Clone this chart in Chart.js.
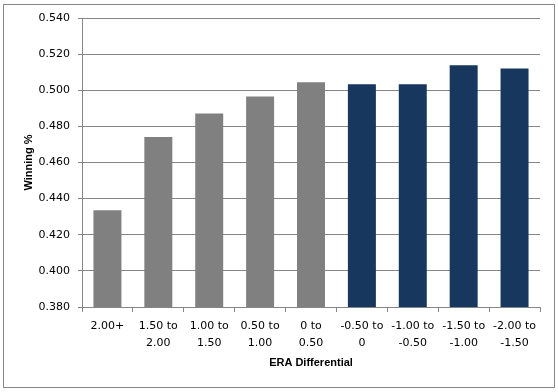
<!DOCTYPE html>
<html>
<head>
<meta charset="utf-8">
<script src="https://cdn.jsdelivr.net/npm/chart.js@4.4.0/dist/chart.umd.min.js"></script>
<style>
  html, body { margin: 0; padding: 0; background: #fff; }
  #wrap { width: 558px; height: 392px; position: relative; }
</style>
</head>
<body>
<div id="wrap"><canvas id="eraChart" width="558" height="392"></canvas></div>
<script>
// ERA differential buckets (run prevention minus opponents)
const categories = [
  ['2.00+'], ['1.50 to', '2.00'], ['1.00 to', '1.50'], ['0.50 to', '1.00'], ['0 to', '0.50'],
  ['-0.50 to', '0'], ['-1.00 to', '-0.50'], ['-1.50 to', '-1.00'], ['-2.00 to', '-1.50']
];
const winPct = [0.4335, 0.4741, 0.4871, 0.4966, 0.5044, 0.5033, 0.5033, 0.5138, 0.5121];
const yTicks = { min: 0.38, max: 0.54, step: 0.02 };

const gray = '#808080';
const navy = '#17375E';
const lineCol = '#868686';

// outer frame like the excel chart border
const framePlugin = {
  id: 'frame',
  beforeDraw(chart) {
    const c = chart.ctx;
    c.save();
    c.fillStyle = '#fff';
    c.fillRect(0, 0, chart.width, chart.height);
    c.strokeStyle = lineCol;
    c.lineWidth = 1;
    c.strokeRect(3.5, 4.5, 551, 383);
    c.restore();
  }
};

const ctx = document.getElementById('eraChart').getContext('2d');
const eraChart = new Chart(ctx, {
  type: 'bar',
  data: {
    labels: categories,
    datasets: [{
      label: 'Winning %',
      data: winPct,
      backgroundColor: c => c.dataIndex < 5 ? gray : navy,
      borderWidth: 0,
      barPercentage: 0.55,
      categoryPercentage: 1
    }]
  },
  options: {
    responsive: false,
    animation: false,
    layout: { padding: { top: 18, right: 18, left: 0, bottom: 0 } },
    plugins: {
      legend: { display: false },
      tooltip: { enabled: false }
    },
    scales: {
      x: {
        afterFit: s => { s.height = 85; },
        grid: { drawOnChartArea: false, tickLength: 5, color: lineCol, offset: true },
        border: { color: lineCol },
        ticks: {
          color: '#000',
          padding: 5,
          maxRotation: 0,
          autoSkip: false,
          font: { family: 'DejaVu Sans', size: 11, lineHeight: 1.6 }
        },
        title: {
          display: true,
          text: 'ERA Differential',
          color: '#000',
          padding: { top: 0, bottom: 22 },
          font: { family: 'Liberation Sans', size: 11, weight: 'bold' }
        }
      },
      y: {
        min: yTicks.min,
        max: yTicks.max,
        afterFit: s => { s.width = 82; },
        grid: { color: lineCol, tickLength: 4 },
        border: { color: lineCol },
        ticks: {
          stepSize: yTicks.step,
          color: '#000',
          padding: 8,
          font: { family: 'DejaVu Sans', size: 11 },
          callback: v => v.toFixed(3)
        },
        title: {
          display: true,
          text: 'Winning %',
          color: '#000',
          padding: { top: 22, bottom: 0 },
          font: { family: 'Liberation Sans', size: 11, weight: 'bold' }
        }
      }
    }
  },
  plugins: [framePlugin]
});
</script>
</body>
</html>
